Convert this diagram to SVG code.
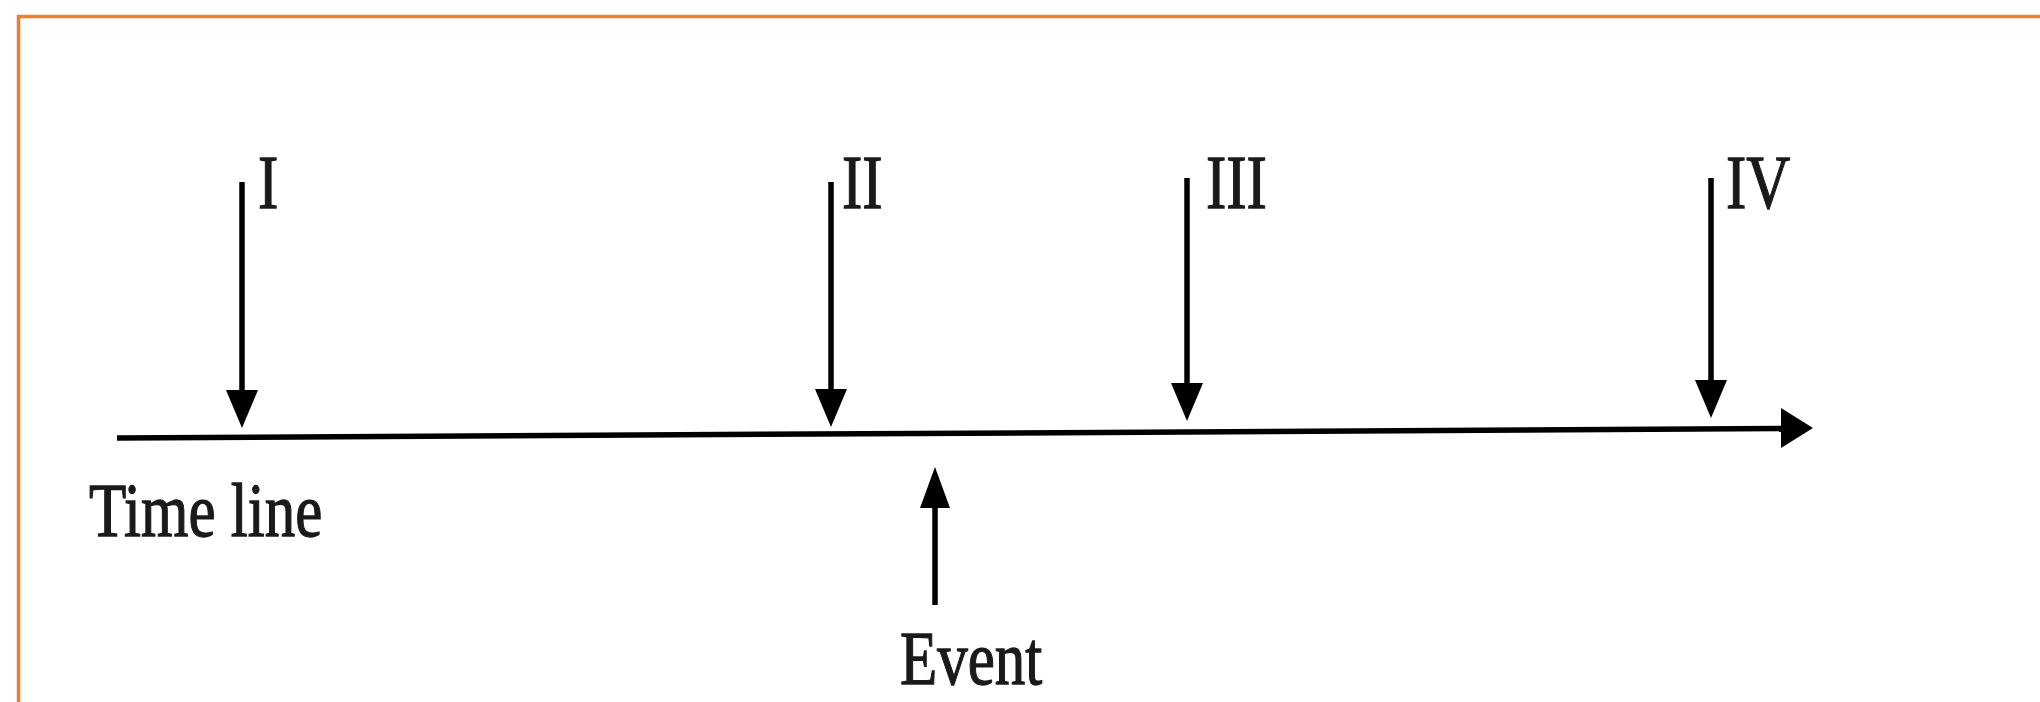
<svg xmlns="http://www.w3.org/2000/svg" width="2040" height="702" viewBox="0 0 2040 702">
<style>
.lbl{font-family:"Liberation Serif","Times New Roman",serif;font-size:61px;fill:#1a1a1a;stroke:#1a1a1a;stroke-width:1}
.shaft{stroke:#000;stroke-width:5.5;fill:none}
.head{fill:#000}
</style>
<rect width="2040" height="702" fill="#fff"/>
<g id="frame" fill="none" stroke="#f07f2a" stroke-width="3.5">
<path d="M18.5 704 V16.5 H2042"/>
</g>
<g id="connectors">
<line class="shaft" x1="117" y1="438" x2="1788" y2="428.5" stroke-width="6.5"/>
<polygon class="head" points="1813,428 1781,408 1781,448"/>
<line class="shaft" x1="242" y1="182" x2="242" y2="395"/>
<polygon class="head" points="242,428 226,390 258,390"/>
<line class="shaft" x1="831" y1="182" x2="831" y2="395"/>
<polygon class="head" points="831,427 815,389 847,389"/>
<line class="shaft" x1="1187" y1="178" x2="1187" y2="388"/>
<polygon class="head" points="1187,421 1171,383 1203,383"/>
<line class="shaft" x1="1711" y1="178" x2="1711" y2="385"/>
<polygon class="head" points="1711,418 1695,380 1727,380"/>
<line class="shaft" x1="935" y1="500" x2="935" y2="605"/>
<polygon class="head" points="935,467 920,508 950,508"/>
</g>
<g id="node-I"><text class="lbl" transform="translate(258,208) scale(1,1.25)">I</text></g>
<g id="node-II"><text class="lbl" transform="translate(842,208) scale(1,1.25)">II</text></g>
<g id="node-III"><text class="lbl" transform="translate(1206,208) scale(1,1.25)">III</text></g>
<g id="node-IV"><text class="lbl" transform="translate(1726,208) scale(1,1.25)">IV</text></g>
<g id="node-timeline"><text class="lbl" transform="translate(89,536) scale(1,1.25)">Time line</text></g>
<g id="node-event"><text class="lbl" transform="translate(900,684) scale(1,1.25)">Event</text></g>
</svg>
